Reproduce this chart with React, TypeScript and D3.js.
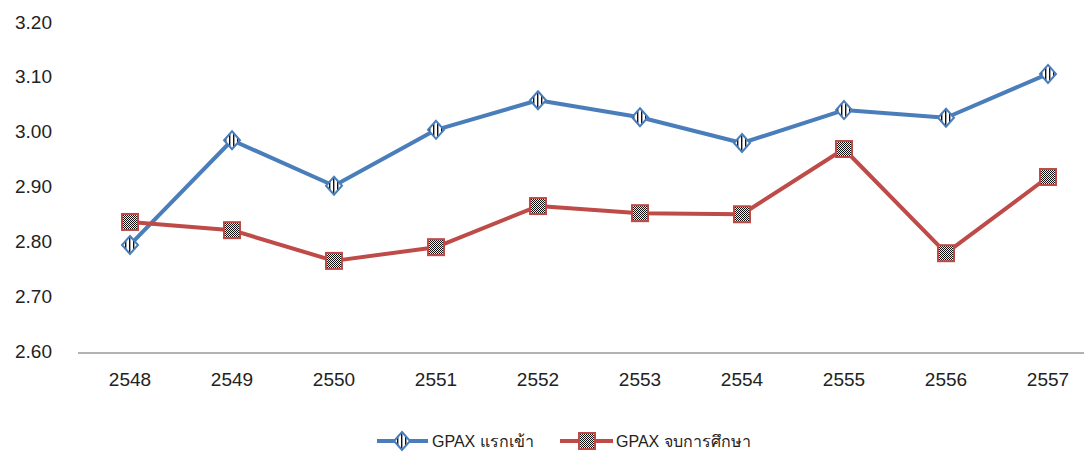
import React from "react";
import * as d3 from "d3";

const years = ["2548", "2549", "2550", "2551", "2552", "2553", "2554", "2555", "2556", "2557"];
const gpaxEntry = [2.797, 2.988, 2.905, 3.007, 3.061, 3.03, 2.983, 3.043, 3.029, 3.109];
const gpaxGrad = [2.839, 2.824, 2.768, 2.793, 2.868, 2.855, 2.853, 2.972, 2.782, 2.921];
const yTicks = [2.6, 2.7, 2.8, 2.9, 3.0, 3.1, 3.2];
const seriesNames = ["GPAX แรกเข้า", "GPAX จบการศึกษา"];

const W = 1084;
const H = 453;
const BLUE = "#4a7ebb";
const RED = "#be4b48";
const FONT = "'Liberation Sans', 'Noto Sans', Tahoma, sans-serif";

export default function App() {
  const x = d3.scaleBand<string>().domain(years).range([79, 1099]);
  const y = d3.scaleLinear().domain([2.6, 3.2]).range([353, 24]);
  const cx = (d: string) => (x(d) as number) + x.bandwidth() / 2;

  const line = d3
    .line<number>()
    .x((_, i) => cx(years[i]))
    .y((v) => y(v));

  const diamond = (px: number, py: number) =>
    `M${px},${py - 9} L${px + 8},${py} L${px},${py + 9} L${px - 8},${py} Z`;

  const square = (px: number, py: number) => (
    <rect x={px - 8} y={py - 8} width={16} height={16} fill="url(#checker)" stroke={RED} strokeWidth={2} />
  );

  return (
    <svg
      width={W}
      height={H}
      style={{ position: "absolute", left: 0, top: 0, background: "#fff" }}
      fontFamily={FONT}
    >
      <defs>
        <pattern id="checker" patternUnits="userSpaceOnUse" width={2} height={2}>
          <rect width={2} height={2} fill="#eee" />
          <rect width={1} height={1} fill="#111" />
          <rect x={1} y={1} width={1} height={1} fill="#111" />
        </pattern>
        <pattern id="stripes" patternUnits="userSpaceOnUse" width={4} height={4}>
          <rect width={4} height={4} fill="#fff" />
          <rect x={1} width={1.4} height={4} fill="#111" />
        </pattern>
      </defs>

      {/* y tick labels */}
      {yTicks.map((t) => (
        <text
          key={t}
          x={52}
          y={y(t) - 2}
          textAnchor="end"
          dominantBaseline="central"
          fontSize={19}
          fill="#222"
        >
          {t.toFixed(2)}
        </text>
      ))}

      {/* x axis line */}
      <line x1={78} x2={1084} y1={y(2.6)} y2={y(2.6)} stroke="#999" strokeWidth={1.3} />

      {/* x tick labels */}
      {years.map((yr) => (
        <text key={yr} x={cx(yr)} y={386} textAnchor="middle" fontSize={19} fill="#222">
          {yr}
        </text>
      ))}

      {/* lines */}
      <path d={line(gpaxEntry) as string} fill="none" stroke={BLUE} strokeWidth={4} strokeLinejoin="round" />
      <path d={line(gpaxGrad) as string} fill="none" stroke={RED} strokeWidth={4} strokeLinejoin="round" />

      {/* markers */}
      {gpaxEntry.map((v, i) => (
        <path key={"b" + i} d={diamond(cx(years[i]), y(v))} fill="url(#stripes)" stroke={BLUE} strokeWidth={2} />
      ))}
      {gpaxGrad.map((v, i) => (
        <g key={"r" + i}>{square(cx(years[i]), y(v))}</g>
      ))}

      {/* legend */}
      <g>
        <line x1={377} x2={428} y1={441} y2={441} stroke={BLUE} strokeWidth={4} />
        <path d={diamond(402, 441)} fill="url(#stripes)" stroke={BLUE} strokeWidth={2} />
        <text x={432} y={447} fontSize={16} fill="#222">
          {seriesNames[0]}
        </text>
        <line x1={560} x2={613} y1={441} y2={441} stroke={RED} strokeWidth={4} />
        {square(587, 441)}
        <text x={616} y={447} fontSize={16} fill="#222">
          {seriesNames[1]}
        </text>
      </g>
    </svg>
  );
}
